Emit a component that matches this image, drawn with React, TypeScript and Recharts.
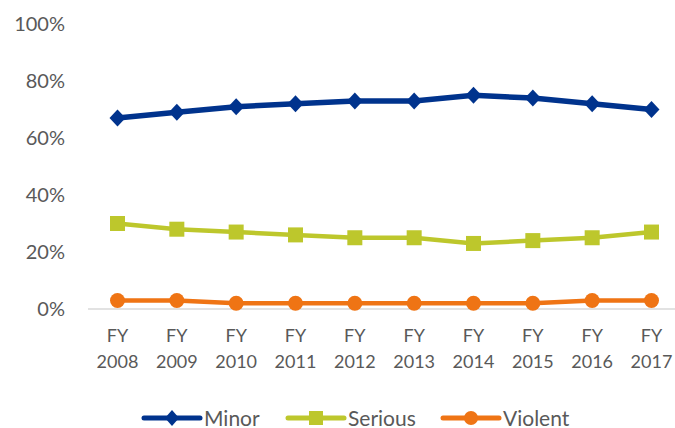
import React from 'react';
import { LineChart, Line, XAxis, YAxis, Legend } from 'recharts';

const categories = ['FY 2008', 'FY 2009', 'FY 2010', 'FY 2011', 'FY 2012', 'FY 2013', 'FY 2014', 'FY 2015', 'FY 2016', 'FY 2017'];
const minor = [67, 69, 71, 72, 73, 73, 75, 74, 72, 70];
const serious = [30, 28, 27, 26, 25, 25, 23, 24, 25, 27];
const violent = [3, 3, 2, 2, 2, 2, 2, 2, 3, 3];
const yTicks = [0, 20, 40, 60, 80, 100];

const data = categories.map((c, i) => ({ cat: c, Minor: minor[i], Serious: serious[i], Violent: violent[i] }));

const C_MINOR = '#00338D';
const C_SERIOUS = '#BDC72C';
const C_VIOLENT = '#EF7414';
const TEXT = '#595959';
const FONT = 'Lato, "Open Sans", sans-serif';

const Diamond = (props: any) => {
  const { cx, cy } = props;
  if (cx == null || cy == null) return null;
  return <polygon points={`${cx},${cy - 8.5} ${cx + 8},${cy} ${cx},${cy + 8.5} ${cx - 8},${cy}`} fill={C_MINOR} />;
};
const Square = (props: any) => {
  const { cx, cy } = props;
  if (cx == null || cy == null) return null;
  return <rect x={cx - 7.5} y={cy - 7.5} width={15} height={15} fill={C_SERIOUS} />;
};
const Circle = (props: any) => {
  const { cx, cy } = props;
  if (cx == null || cy == null) return null;
  return <circle cx={cx} cy={cy} r={7.5} fill={C_VIOLENT} />;
};

const XTick = (props: any) => {
  const { x, y, payload } = props;
  const parts = String(payload.value).split(' ');
  return (
    <text x={x} y={y} textAnchor="middle" fill={TEXT} fontFamily={FONT} fontSize={18}>
      <tspan x={x} dy={33}>{parts[0]}</tspan>
      <tspan x={x} dy={26}>{parts[1]}</tspan>
    </text>
  );
};

const YTick = (props: any) => {
  const { y, payload } = props;
  return (
    <text x={65} y={y} dy={7} textAnchor="end" fill={TEXT} fontFamily={FONT} fontSize={20}>
      {payload.value}%
    </text>
  );
};

const legendItems = [
  { name: 'Minor', color: C_MINOR, shape: 'diamond', x: 144, w: 56 },
  { name: 'Serious', color: C_SERIOUS, shape: 'square', x: 288, w: 56 },
  { name: 'Violent', color: C_VIOLENT, shape: 'circle', x: 443, w: 56 },
];

const LegendContent = () => (
  <svg width={675} height={30} style={{ display: 'block' }}>
    {legendItems.map((it) => {
      const cy = 20;
      const mx = it.x + it.w / 2;
      return (
        <g key={it.name}>
          <line x1={it.x} y1={cy} x2={it.x + it.w} y2={cy} stroke={it.color} strokeWidth={5} strokeLinecap="round" />
          {it.shape === 'diamond' && <polygon points={`${mx},${cy - 8} ${mx + 7},${cy} ${mx},${cy + 8} ${mx - 7},${cy}`} fill={it.color} />}
          {it.shape === 'square' && <rect x={mx - 7} y={cy - 7} width={14} height={14} fill={it.color} />}
          {it.shape === 'circle' && <circle cx={mx} cy={cy} r={7} fill={it.color} />}
          <text x={it.x + it.w + 4} y={cy + 7.5} fill={TEXT} fontFamily={FONT} fontSize={21}>{it.name}</text>
        </g>
      );
    })}
  </svg>
);

export default function App() {
  return (
    <div style={{ position: 'absolute', left: 0, top: 0, width: 675, height: 428, overflow: 'hidden', background: '#fff' }}>
      <LineChart width={681} height={428} data={data} margin={{ top: 24, right: 0, left: 0, bottom: 0 }}>
        <XAxis dataKey="cat" axisLine={{ stroke: '#D9D9D9', strokeWidth: 1.5 }} tickLine={false} tick={<XTick />} interval={0} height={89} tickSize={0} tickMargin={0} padding={{ left: 29.5, right: 29.5 }} />
        <YAxis domain={[0, 100]} ticks={yTicks} axisLine={false} tickLine={false} tick={<YTick />} width={88} interval={0} />
        <Legend verticalAlign="bottom" align="left" content={<LegendContent />} wrapperStyle={{ left: 0, width: 675, height: 30 }} />
        <Line dataKey="Minor" stroke={C_MINOR} strokeWidth={5.5} dot={<Diamond />} activeDot={false} isAnimationActive={false} />
        <Line dataKey="Serious" stroke={C_SERIOUS} strokeWidth={4.5} dot={<Square />} activeDot={false} isAnimationActive={false} />
        <Line dataKey="Violent" stroke={C_VIOLENT} strokeWidth={4.5} dot={<Circle />} activeDot={false} isAnimationActive={false} />
      </LineChart>
    </div>
  );
}
